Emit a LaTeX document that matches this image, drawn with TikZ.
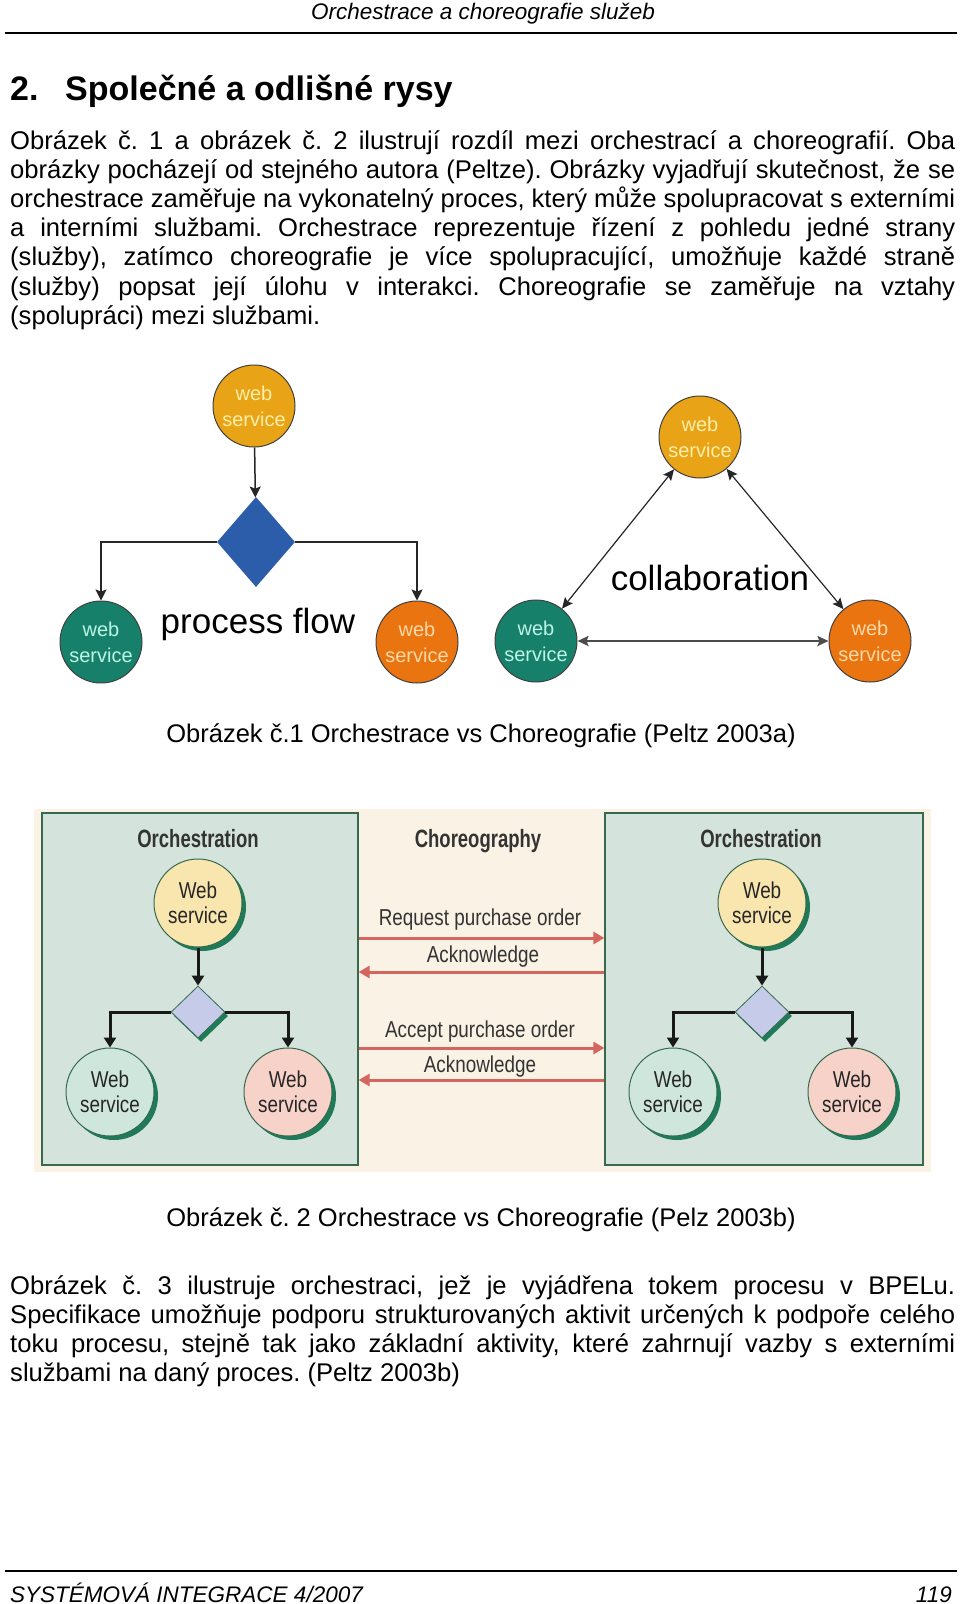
\documentclass[tikz,border=0pt]{standalone}
\usepackage{fontspec}
\setmainfont{Liberation Sans}
\setsansfont{Liberation Sans}
\newfontfamily\condfont[FakeStretch=0.82]{Liberation Sans}
\newfontfamily\titlefont[FakeStretch=0.74]{Liberation Sans}
\usetikzlibrary{shapes.geometric, arrows.meta, shadows}
\tikzset{every picture/.style={/utils/exec={\sffamily}}}
\frenchspacing

\definecolor{wsgold}{HTML}{E8A317}
\definecolor{wsgoldtext}{HTML}{FFEFA8}
\definecolor{wsteal}{HTML}{17806A}
\definecolor{wstealtext}{HTML}{BDF5E6}
\definecolor{wsorange}{HTML}{EA7410}
\definecolor{wsorangetext}{HTML}{FFD9A8}
\definecolor{flowblue}{HTML}{2B5DAA}
\definecolor{choreobg}{HTML}{FAF2E4}
\definecolor{panelbg}{HTML}{D4E4DC}
\definecolor{panelline}{HTML}{37694F}
\definecolor{shadowgreen}{HTML}{1E7A57}
\definecolor{palegold}{HTML}{F8E6AE}
\definecolor{paleteal}{HTML}{CFE6DD}
\definecolor{palepink}{HTML}{F6D2C8}
\definecolor{palelilac}{HTML}{C6CBEA}
\definecolor{msgred}{HTML}{D5655F}

\tikzset{
  bodytext/.style={anchor=base west, inner sep=0pt, text width=945pt, align=justify,
    font={\fontsize{25.6}{29.2}\selectfont\hyphenpenalty=10000 \tolerance=9999\relax}},
  captext/.style={anchor=base, inner sep=0pt, font=\fontsize{25.5}{29.2}\selectfont},
  pagetext/.style={inner sep=0pt, font=\fontsize{22.5}{26}\selectfont\itshape},
  heading/.style={anchor=base west, inner sep=0pt, font=\fontsize{34}{40}\selectfont\bfseries},
  rule/.style={line width=2.5pt},
  ws/.style={circle, draw=black!75, line width=1pt, minimum size=82pt, inner sep=0pt,
    align=center, font=\fontsize{20}{26}\selectfont},
  biglabel/.style={anchor=base, inner sep=0pt, font=\fontsize{35}{40}\selectfont},
  flow/.style={draw=black!85, line width=1.5pt, -{Stealth[length=11pt, width=11pt, inset=2pt]}},
  collab/.style={draw=black!85, line width=1.2pt,
    {Stealth[length=11pt, width=10pt, inset=2pt]}-{Stealth[length=11pt, width=10pt, inset=2pt]}},
  panel/.style={rectangle, fill=panelbg, draw=panelline, line width=1.2pt,
    minimum height=352pt, inner sep=0pt},
  wsbox/.style={circle, draw=panelline, line width=1pt, minimum size=88pt, inner sep=0pt,
    align=center, text=black!85, font=\condfont\fontsize{23}{25}\selectfont,
    general shadow={shadow xshift=4pt, shadow yshift=-4pt, fill=shadowgreen}},
  choice/.style={diamond, fill=palelilac, draw=panelline, line width=0.8pt,
    minimum width=54pt, minimum height=52pt, inner sep=0pt,
    general shadow={shadow xshift=3pt, shadow yshift=-4pt, fill=shadowgreen}},
  panelflow/.style={draw=black!90, line width=3pt, -{Triangle[length=10pt, width=12pt]}},
  paneltitle/.style={anchor=base, inner sep=0pt, text=black!80,
    font=\titlefont\bfseries\fontsize{25}{28}\selectfont},
  msglabel/.style={anchor=base, inner sep=0pt, text=black!80,
    font=\condfont\fontsize{23}{25}\selectfont},
  msg/.style={draw=msgred, line width=3pt, -{Triangle[length=11pt, width=12pt]}},
  msgback/.style={draw=msgred, line width=3pt, {Triangle[length=11pt, width=12pt]}-}
}

\begin{document}
\begin{tikzpicture}[x=1pt, y=-1pt]
  \useasboundingbox (0,0) rectangle (960,1604);

  % page head
  \node[pagetext, anchor=base] (head) at (483,19) {Orchestrace a choreografie služeb};
  \draw[rule] (5,33) -- (957,33);
  \node[heading] (secnum) at (10,100) {2.};
  \node[heading] (sectitle) at (65,100) {Společné a odlišné rysy};

  \node[bodytext] (para1) at (10,149) {Obrázek č. 1 a obrázek č. 2 ilustrují rozdíl mezi orchestrací a choreografií. Oba\linebreak
    obrázky pocházejí od stejného autora (Peltze). Obrázky vyjadřují skutečnost, že se\linebreak
    orchestrace zaměřuje na vykonatelný proces, který může spolupracovat s externími\linebreak
    a interními službami. Orchestrace reprezentuje řízení z pohledu jedné strany\linebreak
    (služby), zatímco choreografie je více spolupracující, umožňuje každé straně\linebreak
    (služby) popsat její úlohu v interakci. Choreografie se zaměřuje na vztahy\linebreak
    (spolupráci) mezi službami.};

  % figure 1, process flow
  \node[ws, fill=wsgold, text=wsgoldtext] (pftop) at (254,406) {web\\service};
  \node[diamond, fill=flowblue, minimum width=78pt, minimum height=90pt, inner sep=0pt] (pfdia) at (256,542) {};
  \node[ws, fill=wsteal, text=wstealtext] (pfleft) at (101,642) {web\\service};
  \node[ws, fill=wsorange, text=wsorangetext] (pfright) at (417,642) {web\\service};
  \draw[flow] (pftop) -- (pfdia);
  \draw[flow] (pfdia.west) -| (pfleft);
  \draw[flow] (pfdia.east) -| (pfright);
  \node[biglabel] (pflabel) at (258,633) {process flow};

  % figure 1, collaboration
  \node[ws, fill=wsgold, text=wsgoldtext] (cotop) at (700,437) {web\\service};
  \node[ws, fill=wsteal, text=wstealtext] (coleft) at (536,641) {web\\service};
  \node[ws, fill=wsorange, text=wsorangetext] (coright) at (870,641) {web\\service};
  \draw[collab] (cotop) -- (coleft);
  \draw[collab] (cotop) -- (coright);
  \draw[collab, draw=black!70, line width=2.5pt] (coleft) -- (coright);
  \node[biglabel] (colabel) at (710,590) {collaboration};

  \node[captext] (cap1) at (481,742) {Obrázek č.1 Orchestrace vs Choreografie (Peltz 2003a)};

  % figure 2
  \fill[choreobg] (34,809) rectangle (931,1172);
  \node[panel, minimum width=316pt] (lpanel) at (200,989) {};
  \node[panel, minimum width=318pt] (rpanel) at (764,989) {};

  \node[paneltitle] (ltitle) at (198,847) {Orchestration};
  \node[paneltitle] (ctitle) at (478,847) {Choreography};
  \node[paneltitle] (rtitle) at (761,847) {Orchestration};

  \node[wsbox, fill=palegold] (ltop) at (198,903) {Web\\service};
  \node[choice] (ldia) at (198,1012) {};
  \node[wsbox, fill=paleteal] (lleft) at (110,1092) {Web\\service};
  \node[wsbox, fill=palepink] (lright) at (288,1092) {Web\\service};
  \draw[panelflow] (ltop) -- (ldia);
  \draw[panelflow] (ldia.west) -| (lleft);
  \draw[panelflow] (ldia.east) -| (lright);

  \node[wsbox, fill=palegold] (rtop) at (762,903) {Web\\service};
  \node[choice] (rdia) at (762,1012) {};
  \node[wsbox, fill=paleteal] (rleft) at (673,1092) {Web\\service};
  \node[wsbox, fill=palepink] (rright) at (852,1092) {Web\\service};
  \draw[panelflow] (rtop) -- (rdia);
  \draw[panelflow] (rdia.west) -| (rleft);
  \draw[panelflow] (rdia.east) -| (rright);

  \node[msglabel] (req) at (480,925) {Request purchase order};
  \draw[msg] (lpanel.east |- 0,938) -- (rpanel.west |- 0,938);
  \node[msglabel] (ack1) at (483,962) {Acknowledge};
  \draw[msgback] (lpanel.east |- 0,972) -- (rpanel.west |- 0,972);
  \node[msglabel] (acc) at (480,1037) {Accept purchase order};
  \draw[msg] (lpanel.east |- 0,1048) -- (rpanel.west |- 0,1048);
  \node[msglabel] (ack2) at (480,1072) {Acknowledge};
  \draw[msgback] (lpanel.east |- 0,1080) -- (rpanel.west |- 0,1080);

  \node[captext] (cap2) at (481,1226) {Obrázek č. 2 Orchestrace vs Choreografie (Pelz 2003b)};

  \node[bodytext] (para2) at (10,1294) {Obrázek č. 3 ilustruje orchestraci, jež je vyjádřena tokem procesu v BPELu.\linebreak
    Specifikace umožňuje podporu strukturovaných aktivit určených k podpoře celého\linebreak
    toku procesu, stejně tak jako základní aktivity, které zahrnují vazby s externími\linebreak
    službami na daný proces. (Peltz 2003b)};

  % page foot
  \draw[rule] (5,1571) -- (957,1571);
  \node[pagetext, anchor=base west] (foot) at (10,1602) {SYSTÉMOVÁ INTEGRACE 4/2007};
  \node[pagetext, anchor=base east] (pageno) at (952,1602) {119};
\end{tikzpicture}
\end{document}
